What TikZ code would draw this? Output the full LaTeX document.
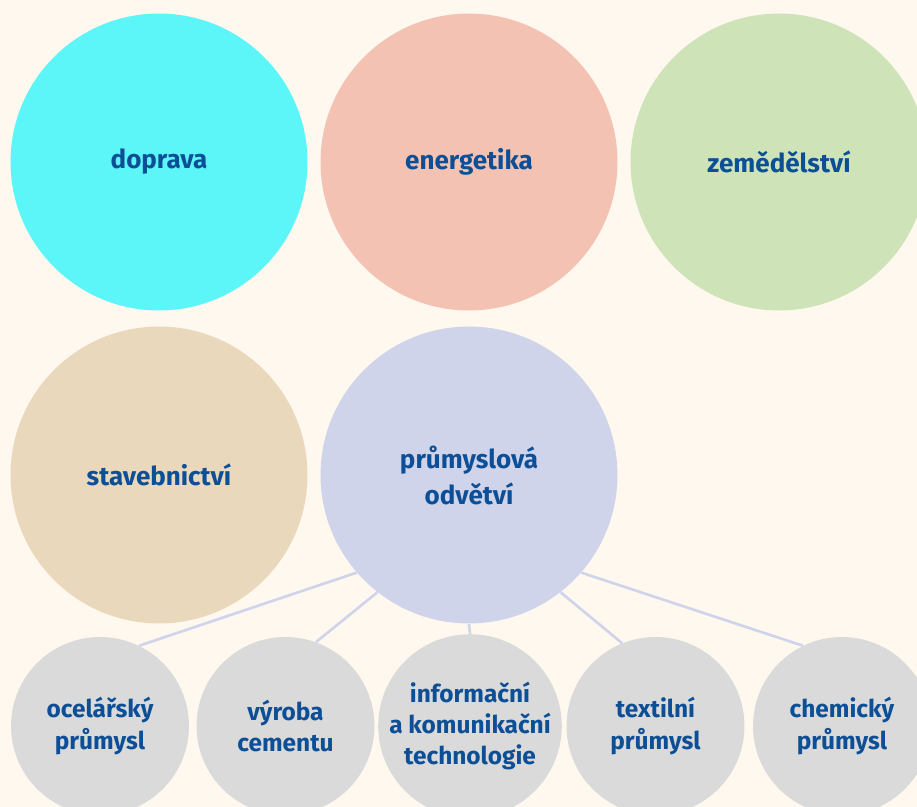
\documentclass[tikz,border=0pt]{standalone}
\usepackage{fontspec}
\setmainfont{Fira Sans}
\usetikzlibrary{positioning}

\definecolor{paper}{HTML}{FFF8EF}
\definecolor{ink}{HTML}{0D4F96}
\definecolor{cdoprava}{HTML}{5CF5F8}
\definecolor{cenergie}{HTML}{F4C2B2}
\definecolor{czemed}{HTML}{CFE3B9}
\definecolor{cstavba}{HTML}{EAD8BC}
\definecolor{cprumysl}{HTML}{D0D4EB}
\definecolor{cobor}{HTML}{DADADA}

\tikzset{
  sector/.style={circle, minimum size=5.94cm, inner sep=0pt, align=center,
    text=ink, font=\bfseries\fontsize{14.8}{20.5}\selectfont},
  branch/.style={circle, fill=cobor, minimum size=3.56cm, inner sep=0pt, align=center,
    text=ink, font=\bfseries\fontsize{13.9}{17.9}\selectfont},
  link/.style={draw=cprumysl, line width=1.5pt}
}

\begin{document}
\begin{tikzpicture}[x=0.02cm, y=-0.02cm]

% page and background
\fill[paper] (0,0) rectangle (917,807);
\useasboundingbox (0,0) rectangle (917,807);

% big circles
\node[sector, fill=cdoprava] (doprava) at (159,162) {doprava};
\node[sector, fill=cenergie] (energetika) at (469,162) {energetika};
\node[sector, fill=czemed] (zemed) at (779,162) {zemědělství};
\node[sector, fill=cstavba] (stavba) at (159,475) {stavebnictví};
\node[sector, fill=cprumysl] (prumysl) at (469,475) {průmyslová\\odvětví};

% branches of industry
\node[branch] (ocel) at (100,726) {ocelářský\\průmysl};
\node[branch] (cement) at (285.5,726) {výroba\\cementu};
\node[branch] (ikt) at (470,726) {informační\\a komunikační\\technologie};
\node[branch] (textil) at (655.5,726) {textilní\\průmysl};
\node[branch] (chemie) at (842,726) {chemický\\průmysl};

\draw[link] (prumysl.221) -- (ocel.64);
\draw[link] (prumysl.232) -- (cement.70);
\draw[link] (prumysl.270) -- (ikt.90);
\draw[link] (prumysl.308) -- (textil.112);
\draw[link] (prumysl.319) -- (chemie.116);

\end{tikzpicture}
\end{document}
